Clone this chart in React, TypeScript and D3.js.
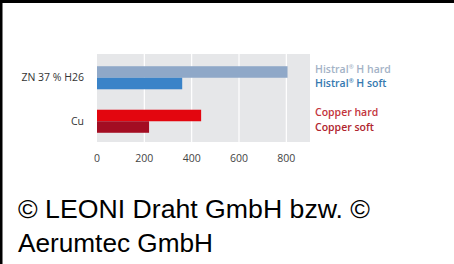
import React from 'react';
import * as d3 from 'd3';

// data
const categories = ['ZN 37 % H26', 'Cu'];
const hardValues = [805, 440];
const softValues = [360, 220];
const xTicks = [0, 200, 400, 600, 800];
const legendLabels = ['Histral', 'Histral', 'Copper hard', 'Copper soft'];

const W = 454;
const H = 264;

const hardColors = ['#8fa8c8', '#e3060f'];
const softColors = ['#3a83c8', '#a30d22'];
const legendColors = ['#a3b2c6', '#3579b0', '#c3343c', '#b0242e'];

export default function App() {
  const x = d3.scaleLinear().domain([0, 900]).range([97, 310]);

  const y = d3.scaleBand<string>()
    .domain(categories)
    .range([56, 143])
    .paddingInner(0.47)
    .paddingOuter(0.235);

  const sub = d3.scaleBand<string>()
    .domain(['hard', 'soft'])
    .range([0, y.bandwidth()])
    .padding(0);

  const chartFont = '"Open Sans", "Noto Sans", sans-serif';
  const legendY = [69, 83, 112, 127];

  return (
    <svg
      width={W}
      height={H}
      style={{ position: 'absolute', left: 0, top: 0 }}
      fontFamily={chartFont}
    >
      <rect x={0} y={0} width={W} height={H} fill="#fff" />
      {/* frame */}
      <rect x={0} y={0} width={W} height={3} fill="#000" />
      <rect x={0} y={0} width={2.5} height={H} fill="#000" />

      {/* plot background */}
      <rect x={x(0)} y={54} width={x(900) - x(0)} height={88} fill="#e6e7e9" />
      {xTicks.slice(1).map(t => (
        <line key={t} x1={x(t)} x2={x(t)} y1={54} y2={142} stroke="#fff" strokeWidth={1.2} />
      ))}

      {/* bars */}
      {categories.map((c, i) => (
        <g key={c}>
          <rect
            x={x(0)}
            y={(y(c) || 0) + (sub('hard') || 0)}
            width={x(hardValues[i]) - x(0)}
            height={sub.bandwidth()}
            fill={hardColors[i]}
          />
          <rect
            x={x(0)}
            y={(y(c) || 0) + (sub('soft') || 0)}
            width={x(softValues[i]) - x(0)}
            height={sub.bandwidth()}
            fill={softColors[i]}
          />
          <text
            x={84}
            y={(y(c) || 0) + y.bandwidth() / 2}
            dy="0.35em"
            textAnchor="end"
            fontSize={10.5}
            fill="#333"
          >
            {c}
          </text>
        </g>
      ))}

      {/* x ticks */}
      {xTicks.map(t => (
        <text key={t} x={x(t)} y={158} dy="0.35em" textAnchor="middle" fontSize={10.5} fill="#444">
          {t}
        </text>
      ))}

      {/* legend */}
      {legendLabels.map((l, i) => (
        <text
          key={i}
          x={315}
          y={legendY[i]}
          dy="0.35em"
          fontSize={10.5}
          fontWeight={600}
          fill={legendColors[i]}
        >
          {i < 2 ? (
            <>
              {l}
              <tspan fontSize={6} dy={-4}>®</tspan>
              <tspan dy={4}>{i === 0 ? ' H hard' : ' H soft'}</tspan>
            </>
          ) : l}
        </text>
      ))}

      {/* credit */}
      <g fontFamily='"Liberation Sans", Arial, sans-serif' fill="#000" fontSize={25}>
        <text x={18} y={218} textLength={352} lengthAdjust="spacingAndGlyphs">
          © LEONI Draht GmbH bzw. ©
        </text>
        <text x={18} y={252} textLength={195} lengthAdjust="spacingAndGlyphs">
          Aerumtec GmbH
        </text>
      </g>
    </svg>
  );
}
